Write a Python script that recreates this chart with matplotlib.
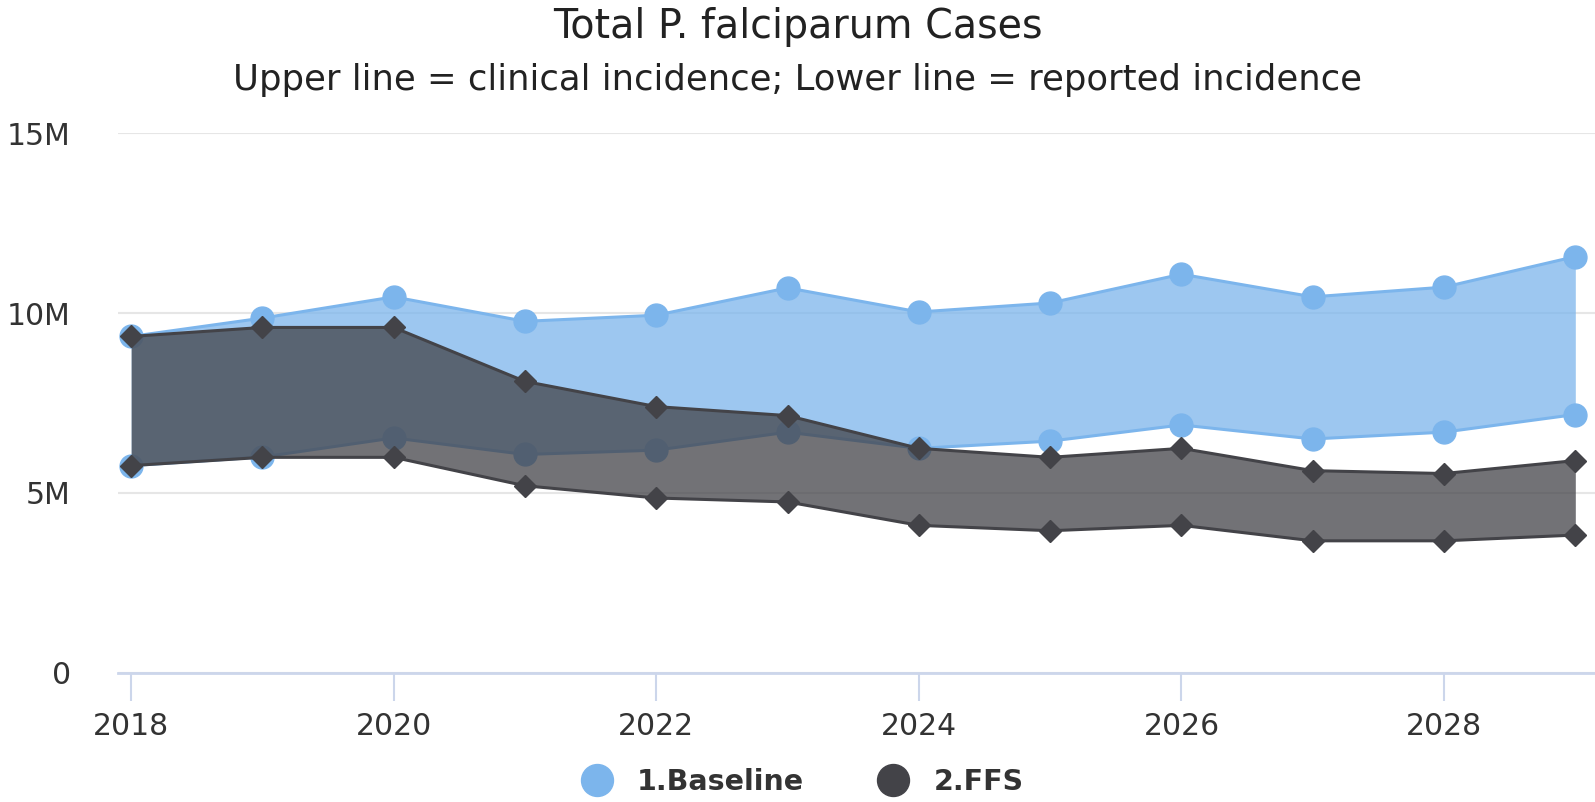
import matplotlib.pyplot as plt
from matplotlib.lines import Line2D
from matplotlib.ticker import FuncFormatter

years = [2018, 2019, 2020, 2021, 2022, 2023, 2024, 2025, 2026, 2027, 2028, 2029]

# Baseline: clinical (upper) and reported (lower) incidence, millions
base_high = [9.35, 9.86, 10.45, 9.77, 9.94, 10.7, 10.03, 10.28, 11.08, 10.45, 10.72, 11.57]
base_low = [5.76, 6.0, 6.53, 6.07, 6.19, 6.69, 6.24, 6.44, 6.89, 6.5, 6.69, 7.18]

# FFS scenario
ffs_high = [9.35, 9.6, 9.6, 8.1, 7.4, 7.15, 6.24, 5.99, 6.24, 5.62, 5.54, 5.9]
ffs_low = [5.76, 5.99, 5.99, 5.2, 4.86, 4.75, 4.1, 3.95, 4.1, 3.67, 3.67, 3.83]

blue = '#7cb5ec'
dark = '#434348'

fig = plt.figure(figsize=(15.95, 8.02), dpi=100)
ax = fig.add_axes([0.074, 0.161, 0.926, 0.673])

# baseline range
ax.fill_between(years, base_low, base_high, color=blue, alpha=0.75, lw=0, zorder=2)
for s in (base_high, base_low):
    ax.plot(years, s, color=blue, lw=2.2, marker='o', ms=16.5, zorder=3)

# FFS range on top
ax.fill_between(years, ffs_low, ffs_high, color=dark, alpha=0.75, lw=0, zorder=4)
for s in (ffs_high, ffs_low):
    ax.plot(years, s, color=dark, lw=2.2, marker='D', ms=11.5, zorder=5)

ax.set_xlim(2017.9, 2029.15)
ax.set_ylim(0, 15)
ax.set_yticks([0, 5, 10, 15])
ax.yaxis.set_major_formatter(FuncFormatter(lambda v, p: '0' if v == 0 else '%dM' % v))
ax.set_xticks(range(2018, 2030, 2))

ax.grid(axis='y', color='#e6e6e6', lw=1.5, zorder=0)
for side in ('top', 'right', 'left'):
    ax.spines[side].set_visible(False)
ax.spines['bottom'].set_color('#ccd6eb')
ax.spines['bottom'].set_linewidth(2)
ax.tick_params(axis='x', colors='#ccd6eb', length=20, width=1.5, labelcolor='#333333',
               labelsize=21.5, pad=8)
ax.tick_params(axis='y', length=0, labelcolor='#333333', labelsize=21.5, pad=34)

fig.text(0.5, 0.953, 'Total P. falciparum Cases', ha='center', va='baseline',
         fontsize=28.5, color='#222222')
fig.text(0.5, 0.888, 'Upper line = clinical incidence; Lower line = reported incidence',
         ha='center', va='baseline', fontsize=25.5, color='#222222')

handles = [Line2D([], [], ls='none', marker='o', ms=23, color=blue),
           Line2D([], [], ls='none', marker='o', ms=23, color=dark)]
leg = fig.legend(handles, ['1.Baseline', '2.FFS'], loc='center', bbox_to_anchor=(0.503, 0.025),
                 ncol=2, frameon=False, prop={'size': 20.5, 'weight': 'bold'},
                 handlelength=1.1, handletextpad=0.85, columnspacing=2.6,
                 borderpad=0, borderaxespad=0)
for t in leg.get_texts():
    t.set_color('#333333')

fig.savefig('out.png', dpi=100)
